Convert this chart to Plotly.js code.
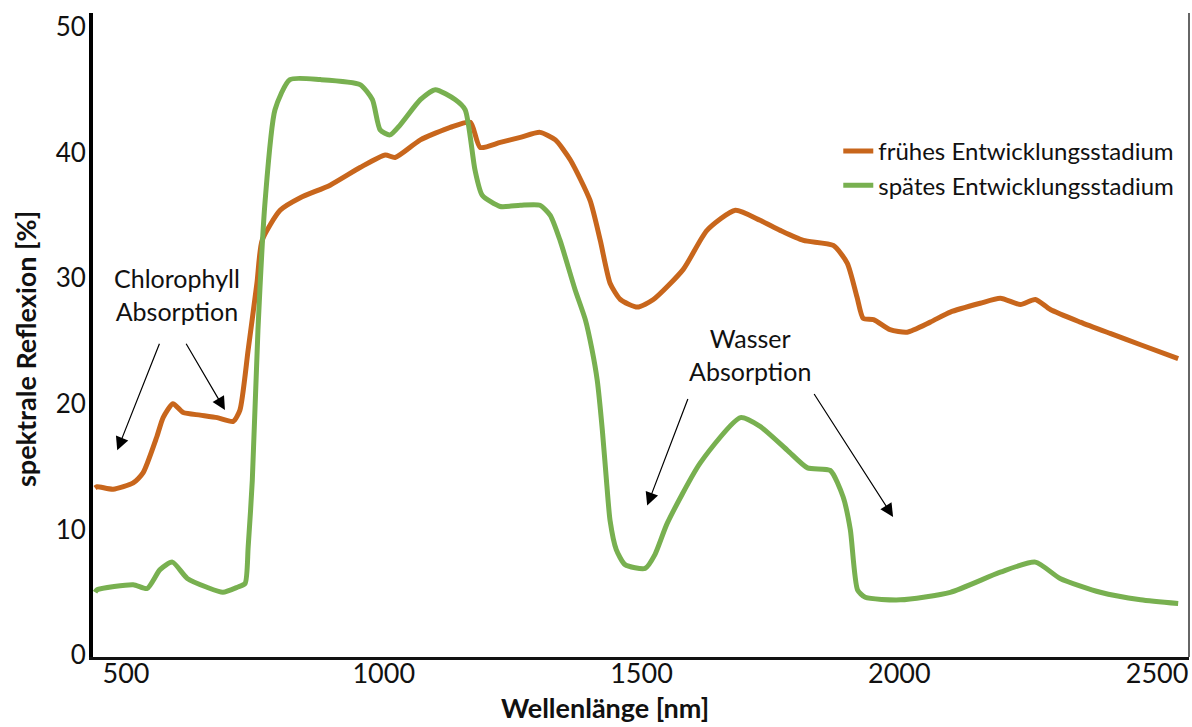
<!DOCTYPE html>
<html>
<head>
<meta charset="utf-8">
<script src="https://cdn.plot.ly/plotly-3.0.1.min.js"></script>
<style>html,body{margin:0;padding:0;background:#fff;}#chart{width:1192px;height:727px;}</style>
</head>
<body>
<div id="chart"></div>
<script>
// Wavelength (nm) and reflectance (%)
const earlyNm = [440, 444, 475, 514, 533, 560, 572, 591, 611, 644, 677, 708, 721, 737, 754, 764, 799, 838, 896, 954, 1003, 1022, 1071, 1129, 1168, 1187, 1226, 1265, 1303, 1333, 1362, 1400, 1420, 1439, 1459, 1492, 1523, 1581, 1627, 1682, 1730, 1769, 1814, 1872, 1899, 1918, 1930, 1950, 1982, 2015, 2060, 2099, 2157, 2196, 2235, 2264, 2293, 2351, 2409, 2468, 2541];
const earlyRefl = [13.3, 13.4, 13.2, 13.7, 14.5, 17.4, 18.9, 20.0, 19.3, 19.1, 18.9, 18.6, 19.5, 24.3, 29.6, 33.0, 35.4, 36.4, 37.4, 38.8, 39.8, 39.6, 41.0, 42.0, 42.4, 40.4, 40.8, 41.2, 41.6, 41.0, 39.4, 36.2, 33.0, 29.6, 28.3, 27.7, 28.3, 30.7, 33.8, 35.4, 34.6, 33.8, 33.0, 32.6, 31.2, 28.5, 26.8, 26.7, 25.9, 25.7, 26.5, 27.3, 28.0, 28.4, 27.9, 28.3, 27.5, 26.5, 25.6, 24.7, 23.6];

const lateNm = [440, 444, 514, 541, 566, 590, 619, 657, 688, 716, 731, 737, 745, 756, 770, 789, 818, 877, 954, 978, 993, 1012, 1032, 1071, 1100, 1139, 1158, 1177, 1191, 1226, 1265, 1303, 1323, 1342, 1371, 1391, 1404, 1414, 1424, 1432, 1439, 1451, 1468, 1507, 1526, 1550, 1614, 1692, 1730, 1783, 1822, 1866, 1891, 1905, 1919, 1934, 2002, 2099, 2196, 2264, 2312, 2390, 2468, 2541];
const lateRefl = [5.0, 5.2, 5.6, 5.3, 6.8, 7.4, 6.1, 5.4, 5.0, 5.4, 5.7, 8.6, 13.9, 25.9, 36.2, 43.4, 45.8, 45.8, 45.4, 44.2, 41.8, 41.4, 42.2, 44.2, 45.0, 44.2, 43.4, 38.6, 36.6, 35.7, 35.8, 35.8, 35.0, 33.0, 29.1, 26.7, 24.3, 21.9, 17.9, 13.9, 10.7, 8.4, 7.2, 6.9, 8.0, 10.5, 15.3, 18.9, 18.2, 16.3, 14.9, 14.7, 12.6, 10.0, 5.2, 4.6, 4.4, 5.0, 6.6, 7.4, 6.1, 5.0, 4.4, 4.1];

const seriesNames = ['frühes Entwicklungsstadium', 'spätes Entwicklungsstadium'];
const xTickVals = [500, 1000, 1500, 2000, 2500];
const yTickVals = [0, 10, 20, 30, 40, 50];

const FONT = 'Lato, "Open Sans", sans-serif';

const traces = [
  {x: earlyNm, y: earlyRefl, name: seriesNames[0], type: 'scatter', mode: 'lines',
   line: {color: '#c8661c', width: 5, shape: 'spline', smoothing: 0.6}},
  {x: lateNm, y: lateRefl, name: seriesNames[1], type: 'scatter', mode: 'lines',
   line: {color: '#78b050', width: 5, shape: 'spline', smoothing: 0.6}}
];

function arrow(hx, hy, tx, ty) {
  return {x: hx, y: hy, ax: tx, ay: ty, xref: 'x', yref: 'y', axref: 'x', ayref: 'y',
          text: '', showarrow: true, arrowhead: 2, arrowsize: 2.2, arrowwidth: 1.2, arrowcolor: '#000'};
}

const layout = {
  width: 1192, height: 727,
  margin: {l: 93, r: 3, t: 13, b: 70, pad: 0},
  paper_bgcolor: '#fff', plot_bgcolor: '#fff',
  font: {family: FONT, color: '#111', size: 23},
  showlegend: true,
  legend: {x: 0.68, y: 0.82, xanchor: 'left', yanchor: 'top', bgcolor: 'rgba(0,0,0,0)',
           font: {family: FONT, size: 24, color: '#111'}, tracegroupgap: 0, itemwidth: 30},
  xaxis: {range: [436, 2562], tickvals: xTickVals, showgrid: false, zeroline: false,
          showline: true, linecolor: '#111', linewidth: 3, ticks: '',
          ticklabeloverflow: 'allow', ticklabelstandoff: -9,
          tickfont: {family: FONT, size: 27, color: '#111'}},
  yaxis: {range: [-0.15, 51.1], tickvals: yTickVals, showgrid: false, zeroline: false,
          showline: true, linecolor: '#000', linewidth: 4, ticks: '',
          ticklabelstandoff: -2, tickfont: {family: FONT, size: 26, color: '#111'}},
  shapes: [
    {type: 'line', xref: 'paper', yref: 'paper', x0: 1, x1: 1, y0: 0, y1: 1,
     line: {color: '#333', width: 1.5}}
  ],
  annotations: [
    {xref: 'paper', yref: 'paper', x: (605 - 93) / 1096, y: -0.079, yanchor: 'middle', xanchor: 'center',
     text: '<b>Wellenlänge [nm]</b>', showarrow: false, font: {family: FONT, size: 27, color: '#111'}},
    {xref: 'paper', yref: 'paper', x: (25 - 93) / 1096, y: 1 - (349 - 13) / 644, yanchor: 'middle', xanchor: 'center',
     textangle: -90, text: '<b>spektrale Reflexion [%]</b>', showarrow: false, font: {family: FONT, size: 27, color: '#111'}},
    {xref: 'x', yref: 'y', x: 599, y: 28.7, text: 'Chlorophyll<br>Absorption', showarrow: false,
     font: {family: FONT, size: 25, color: '#111'}},
    {xref: 'x', yref: 'y', x: 1711, y: 23.9, text: 'Wasser<br>Absorption', showarrow: false,
     font: {family: FONT, size: 25, color: '#111'}},
    arrow(483, 16.3, 566, 24.9),
    arrow(692, 19.5, 615, 24.9),
    arrow(1511, 11.9, 1591, 20.5),
    arrow(1988, 11.0, 1833, 20.9)
  ]
};

Plotly.newPlot('chart', traces, layout, {displayModeBar: false, staticPlot: true});
</script>
</body>
</html>
